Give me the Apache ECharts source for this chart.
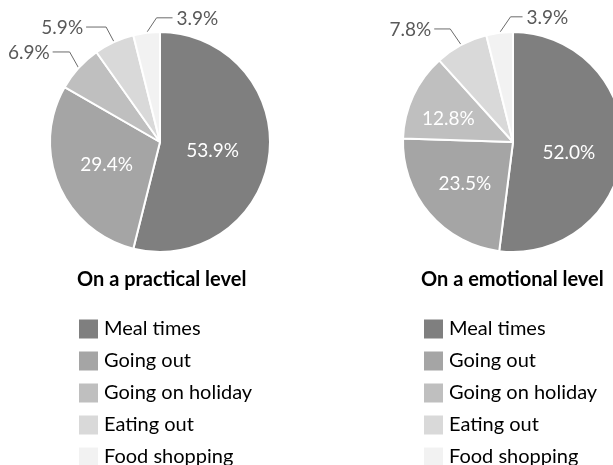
<!DOCTYPE html>
<html>
<head>
<meta charset="utf-8">
<script src="https://cdn.jsdelivr.net/npm/echarts@6/dist/echarts.min.js"></script>
<style>
html,body{margin:0;padding:0;background:#fff;}
#chart{width:613px;height:465px;}
</style>
</head>
<body>
<div id="chart"></div>
<script>
// ---- data ----
var categories = ['Meal times', 'Going out', 'Going on holiday', 'Eating out', 'Food shopping'];
var practicalValues = [53.9, 29.4, 6.9, 5.9, 3.9];
var emotionalValues = [52.0, 23.5, 12.8, 7.8, 3.9];
var chartTitles = ['On a practical level', 'On a emotional level'];

// ---- styles ----
var colors = ['#7f7f7f', '#a5a5a5', '#bfbfbf', '#d9d9d9', '#f2f2f2'];
var FONT = 'Lato';
var INSIDE_MIN = 10; // slices larger than this get their label inside

// leader-line shape per outside label: elbow offset from slice edge, horizontal run
var leaderStyle = [
  { 'Going on holiday': {ex: -9, ey: -16, h: -17}, 'Eating out': {ex: -8, ey: -15, h: -20}, 'Food shopping': {ex: 10, ey: -15, h: 16} },
  { 'Eating out': {ex: -11, ey: -16, h: -16}, 'Food shopping': {ex: 11, ey: -16, h: 12} }
];
var insideShift = [
  { 'Meal times': {dx: -5, dy: 2} },
  { 'Meal times': {dx: -2, dy: 7}, 'Going out': {dx: -4, dy: 4}, 'Going on holiday': {dx: -12, dy: 1} }
];

function buildData(values) {
  return categories.map(function (name, i) {
    var inside = values[i] > INSIDE_MIN;
    return {
      name: name,
      value: values[i],
      itemStyle: { color: colors[i] },
      label: inside ? { position: 'inside', color: '#ffffff' } : { position: 'outside', color: '#595959' },
      labelLine: { show: !inside }
    };
  });
}

function makeLayout(seriesIdx) {
  return function (params) {
    var name = categories[params.dataIndex];
    var ls = leaderStyle[seriesIdx][name];
    if (ls && params.labelLinePoints) {
      var p0 = params.labelLinePoints[0];
      var p1 = [p0[0] + ls.ex, p0[1] + ls.ey];
      var p2 = [p1[0] + ls.h, p1[1]];
      return {
        x: p2[0] + (ls.h > 0 ? 4 : -3),
        y: p2[1] + 1,
        align: ls.h > 0 ? 'left' : 'right',
        verticalAlign: 'middle',
        labelLinePoints: [p0, p1, p2]
      };
    }
    var sh = insideShift[seriesIdx][name];
    if (sh) return { dx: sh.dx, dy: sh.dy };
    return {};
  };
}

function makeSeries(values, idx, center) {
  return {
    type: 'pie',
    center: center,
    radius: 110,
    startAngle: 90,
    clockwise: true,
    avoidLabelOverlap: false,
    silent: true,
    animation: false,
    data: buildData(values),
    itemStyle: { borderColor: '#ffffff', borderWidth: 2 },
    label: {
      fontFamily: FONT,
      fontSize: 19,
      formatter: function (p) { return p.value.toFixed(1) + '%'; }
    },
    labelLine: { length: 15, length2: 15, lineStyle: { color: '#6b6b6b', width: 1 } },
    labelLayout: makeLayout(idx)
  };
}

function makeLegend(left) {
  return {
    data: categories, orient: 'vertical', left: left, top: 317.5, height: 300, padding: 0,
    itemWidth: 21, itemHeight: 21, itemGap: 9, icon: 'rect', selectedMode: false,
    textStyle: { fontFamily: FONT, fontSize: 20, color: '#000000' }
  };
}

function makeTitle(text, left) {
  return { text: text, left: left, top: 270, padding: 0,
    textStyle: { fontFamily: FONT, fontSize: 20, fontWeight: 'bold', color: '#000000' } };
}

var chart = echarts.init(document.getElementById('chart'), null, { renderer: 'canvas' });
chart.setOption({
  backgroundColor: '#ffffff',
  animation: false,
  title: [ makeTitle(chartTitles[0], 77), makeTitle(chartTitles[1], 421) ],
  legend: [ makeLegend(77), makeLegend(422) ],
  series: [
    makeSeries(practicalValues, 0, [160, 142]),
    makeSeries(emotionalValues, 1, [513, 142])
  ]
});
</script>
</body>
</html>
